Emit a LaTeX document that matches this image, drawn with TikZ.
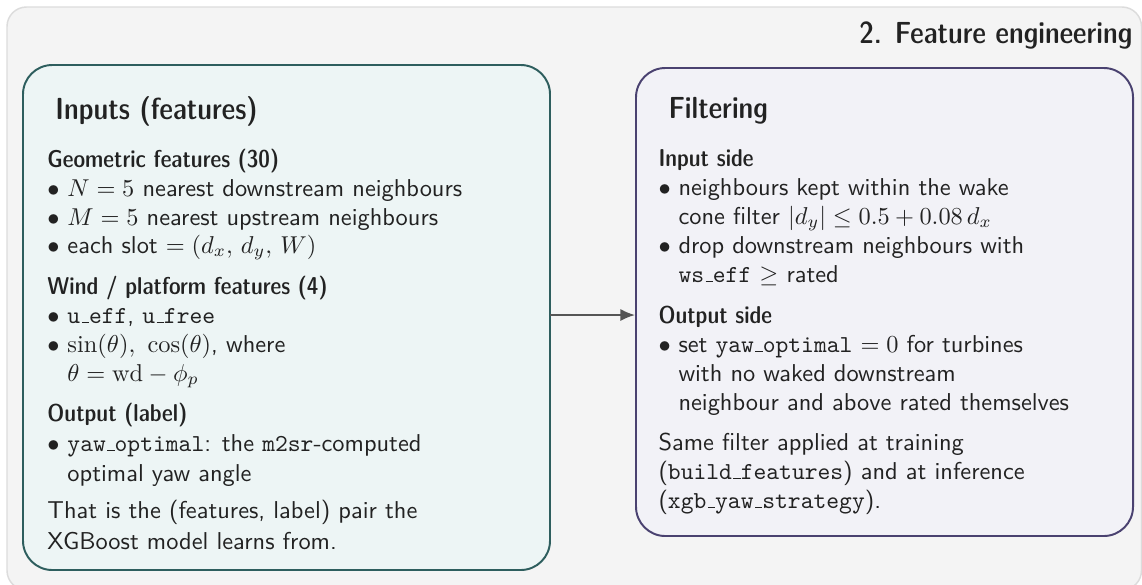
\documentclass[tikz,border=0pt]{standalone}
\usepackage{fontspec}
\newfontfamily\demi{lmsansdemicond10-regular}[Extension=.otf]
\usetikzlibrary{arrows.meta,fit}
\definecolor{panelfill}{HTML}{F4F4F4}
\definecolor{panelline}{HTML}{DCDCDC}
\definecolor{inputfill}{HTML}{EDF5F5}
\definecolor{inputline}{HTML}{2E5E5E}
\definecolor{filterfill}{HTML}{F2F2F7}
\definecolor{filterline}{HTML}{4A4270}
\definecolor{ink}{HTML}{222222}
\definecolor{arrowgray}{HTML}{555555}
% round bullet with a fixed item indent
\newcommand{\bul}{\hbox to 8.2pt{$\bullet$\hss}}
% short rule underscore, as in classic LaTeX typewriter text
\newcommand{\us}{\leavevmode\kern.06em\vbox{\hrule width.3em}}
\tikzset{
  txt/.style={anchor=base west, inner sep=0pt, font=\sffamily, text=ink},
  boxtitle/.style={txt, font=\fontsize{12.5}{15}\demi},
  subhead/.style={txt, font=\demi},
  card/.style={rounded corners=12pt, line width=0.8pt, inner sep=0pt},
}
\begin{document}
\begin{tikzpicture}[x=0.41pt, y=-0.41pt]
\useasboundingbox (0,0) rectangle (1142,584);
\begin{scope}
  \clip (0,0) rectangle (1142,584);
  \draw[panelline, fill=panelfill, line width=0.6pt, rounded corners=8pt]
    (7,7) rectangle (1141.5,590);
\end{scope}

% section heading
\node[boxtitle, anchor=base east] (sec) at (1133,43) {2. Feature engineering};

% the two cards
\coordinate (lbtl) at (23,65);  \coordinate (lbbr) at (550,570);
\coordinate (rbtl) at (636,68); \coordinate (rbbr) at (1133,536);
\node[card, draw=inputline, fill=inputfill, fit=(lbtl)(lbbr)] (inputs) {};
\node[card, draw=filterline, fill=filterfill, fit=(rbtl)(rbbr)] (filter) {};

% connector between the cards
\coordinate (ca) at (550,315);
\draw[arrowgray, line width=0.8pt, -{Latex[length=6pt,width=5pt]}]
  (ca) -- (ca -| filter.west);

% left card: inputs
\node[boxtitle] (l1) at (55,119) {Inputs (features)};
\node[subhead] (l2) at (47,167) {Geometric features (30)};
\node[txt] (l3) at (47,196) {\bul$N=5$ nearest downstream neighbours};
\node[txt] (l4) at (47,225) {\bul$M=5$ nearest upstream neighbours};
\node[txt] (l5) at (47,253) {\bul each slot $=(d_x,\,d_y,\,W)$};
\node[subhead] (l6) at (47,294) {Wind / platform features (4)};
\node[txt] (l7) at (47,323) {\bul\texttt{u\us eff}, \texttt{u\us free}};
\node[txt] (l8) at (47,352) {\bul$\sin(\theta),\ \cos(\theta)$, where};
\node[txt] (l9) at (67,381) {$\theta=\mathrm{wd}-\phi_p$};
\node[subhead] (l10) at (47,421) {Output (label)};
\node[txt] (l11) at (47,451) {\bul\texttt{yaw\us optimal}: the \texttt{m2sr}-computed};
\node[txt] (l12) at (67,481) {optimal yaw angle};
\node[txt] (l13) at (47,518) {That is the (features, label) pair the};
\node[txt] (l14) at (47,549) {XGBoost model learns from.};

% right card: filtering
\node[boxtitle] (r1) at (668,118) {Filtering};
\node[subhead] (r2) at (658,166) {Input side};
\node[txt] (r3) at (658,195) {\bul neighbours kept within the wake};
\node[txt] (r4) at (678,224) {cone filter $|d_y|\le 0.5+0.08\,d_x$};
\node[txt] (r5) at (658,253) {\bul drop downstream neighbours with};
\node[txt] (r6) at (678,282) {\texttt{ws\us eff} $\ge$ rated};
\node[subhead] (r7) at (658,323) {Output side};
\node[txt] (r8) at (658,352) {\bul set \texttt{yaw\us optimal} $=0$ for turbines};
\node[txt] (r9) at (678,381) {with no waked downstream};
\node[txt] (r10) at (678,410) {neighbour and above rated themselves};
\node[txt] (r11) at (658,450) {Same filter applied at training};
\node[txt] (r12) at (658,479) {(\texttt{build\us features}) and at inference};
\node[txt] (r13) at (658,508) {(\texttt{xgb\us yaw\us strategy}).};
\end{tikzpicture}
\end{document}
